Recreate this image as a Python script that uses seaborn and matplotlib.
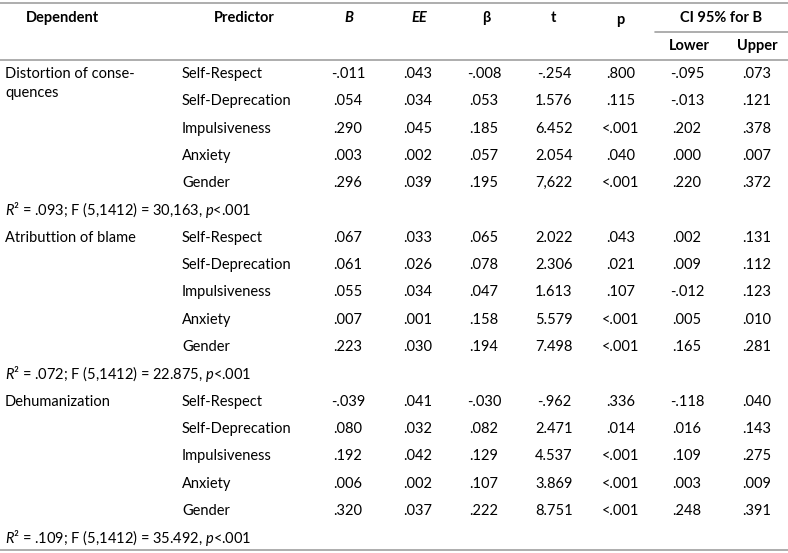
import matplotlib.pyplot as plt
import seaborn as sns

sns.set_theme(style="white")
plt.rcParams['font.family'] = ['Lato', 'DejaVu Sans']
plt.rcParams['mathtext.fontset'] = 'custom'
plt.rcParams['mathtext.rm'] = 'Lato'
plt.rcParams['mathtext.it'] = 'Lato:italic'

# table contents
dependents = ['Distortion of conse-\nquences', 'Atributtion of blame', 'Dehumanization']
predictors = ['Self-Respect', 'Self-Deprecation', 'Impulsiveness', 'Anxiety', 'Gender']
col_B = ['-.011', '.054', '.290', '.003', '.296',
         '.067', '.061', '.055', '.007', '.223',
         '-.039', '.080', '.192', '.006', '.320']
col_EE = ['.043', '.034', '.045', '.002', '.039',
          '.033', '.026', '.034', '.001', '.030',
          '.041', '.032', '.042', '.002', '.037']
col_beta = ['-.008', '.053', '.185', '.057', '.195',
            '.065', '.078', '.047', '.158', '.194',
            '-.030', '.082', '.129', '.107', '.222']
col_t = ['-.254', '1.576', '6.452', '2.054', '7,622',
         '2.022', '2.306', '1.613', '5.579', '7.498',
         '-.962', '2.471', '4.537', '3.869', '8.751']
col_p = ['.800', '.115', '<.001', '.040', '<.001',
         '.043', '.021', '.107', '<.001', '<.001',
         '.336', '.014', '<.001', '<.001', '<.001']
col_lower = ['-.095', '-.013', '.202', '.000', '.220',
             '.002', '.009', '-.012', '.005', '.165',
             '-.118', '.016', '.109', '.003', '.248']
col_upper = ['.073', '.121', '.378', '.007', '.372',
             '.131', '.112', '.123', '.010', '.281',
             '.040', '.143', '.275', '.009', '.391']
fit_lines = [r'$R$² = .093; F (5,1412) = 30,163, $p$<.001',
             r'$R$² = .072; F (5,1412) = 22.875, $p$<.001',
             r'$R$² = .109; F (5,1412) = 35.492, $p$<.001']

fig = plt.figure(figsize=(7.88, 5.53), dpi=100)
ax = fig.add_axes([0, 0, 1, 1])
ax.set_xlim(0, 788)
ax.set_ylim(553, 0)
ax.axis('off')

fs = 10.5
ink = '#000000'
rule = '#a0a0a0'

# header
ax.text(62, 18, 'Dependent', ha='center', va='center', fontsize=fs, fontweight='bold', color=ink)
ax.text(244, 18, 'Predictor', ha='center', va='center', fontsize=fs, fontweight='bold', color=ink)
ax.text(349, 18, 'B', ha='center', va='center', fontsize=fs, fontweight='bold', style='italic', color=ink)
ax.text(419, 18, 'EE', ha='center', va='center', fontsize=fs, fontweight='bold', style='italic', color=ink)
ax.text(486, 18, 'β', ha='center', va='center', fontsize=fs, fontweight='bold', color=ink)
ax.text(553, 18, 't', ha='center', va='center', fontsize=fs, fontweight='bold', color=ink)
ax.text(620, 20, 'p', ha='center', va='center', fontsize=fs, fontweight='bold', color=ink)
ax.text(721, 18, 'CI 95% for B', ha='center', va='center', fontsize=fs, fontweight='bold', color=ink)
ax.text(689, 46, 'Lower', ha='center', va='center', fontsize=fs, fontweight='bold', color=ink)
ax.text(757, 46, 'Upper', ha='center', va='center', fontsize=fs, fontweight='bold', color=ink)

ax.plot([0, 788], [3, 3], color=rule, lw=1.2)
ax.plot([655, 788], [32, 32], color=rule, lw=1.2)
ax.plot([0, 788], [60, 60], color=rule, lw=1.2)
ax.plot([0, 788], [550, 550], color=rule, lw=1.2)

num_x = [348, 418, 484, 554, 621, 687, 757]
columns = [col_B, col_EE, col_beta, col_t, col_p, col_lower, col_upper]

row_h = 27.3
y = 74
k = 0
for g, dep in enumerate(dependents):
    ax.text(5, y - 7, dep, ha='left', va='top', fontsize=fs, color=ink, linespacing=1.45)
    for pred in predictors:
        ax.text(182, y, pred, ha='left', va='center', fontsize=fs, color=ink)
        for cx, col in zip(num_x, columns):
            ax.text(cx, y, col[k], ha='center', va='center', fontsize=fs, color=ink)
        k += 1
        y += row_h
    ax.text(5, y, fit_lines[g], ha='left', va='center', fontsize=fs, color=ink)
    y += row_h

fig.savefig('out.png', dpi=100)
